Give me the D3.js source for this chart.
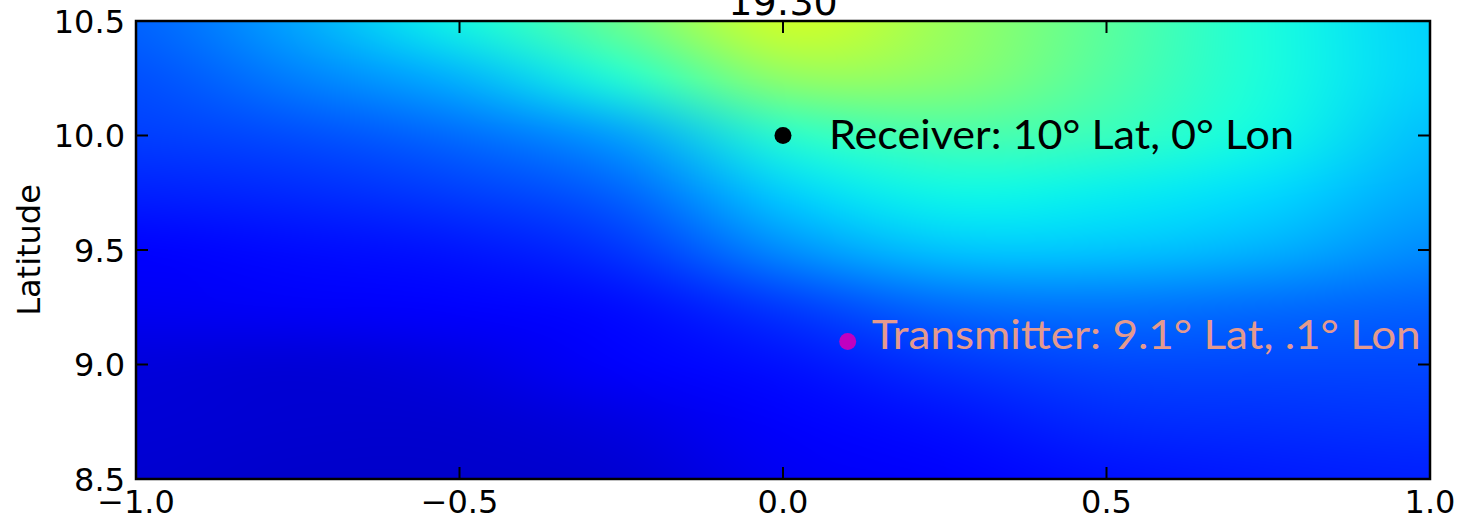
<!DOCTYPE html>
<html>
<head>
<meta charset="utf-8">
<script src="https://cdn.jsdelivr.net/npm/d3@7"></script>
<style>
  body { margin: 0; background: #fff; }
  svg { display: block; }
  .tick-label { font-family: 'DejaVu Sans', sans-serif; font-size: 32px; fill: #000; }
  .note { font-family: Lato, 'Open Sans', sans-serif; font-size: 41px; }
</style>
</head>
<body>
<svg width="1462" height="521"></svg>
<script>
// grid of the field (longitude columns, latitude rows), 0..1 on jet
const lons = [-1, -0.75, -0.5, -0.25, 0, 0.25, 0.5, 0.75, 1];
const lats = [10.5, 10.25, 10.0, 9.75, 9.5, 9.25, 9.0, 8.75, 8.5];
const field = [
  [0.22, 0.29, 0.37, 0.48, 0.61, 0.54, 0.46, 0.38, 0.33],
  [0.20, 0.25, 0.30, 0.39, 0.53, 0.52, 0.45, 0.38, 0.33],
  [0.185, 0.20, 0.23, 0.28, 0.40, 0.44, 0.42, 0.37, 0.31],
  [0.155, 0.165, 0.185, 0.22, 0.33, 0.37, 0.36, 0.34, 0.29],
  [0.12, 0.135, 0.145, 0.175, 0.265, 0.32, 0.32, 0.30, 0.26],
  [0.10, 0.105, 0.11, 0.135, 0.18, 0.23, 0.24, 0.23, 0.22],
  [0.08, 0.075, 0.085, 0.11, 0.14, 0.175, 0.195, 0.195, 0.195],
  [0.075, 0.07, 0.07, 0.085, 0.11, 0.14, 0.165, 0.17, 0.175],
  [0.07, 0.065, 0.065, 0.07, 0.10, 0.12, 0.14, 0.15, 0.155]
];

const xTicks = [-1, -0.5, 0, 0.5, 1];
const yTicks = [8.5, 9.0, 9.5, 10.0, 10.5];
const title = '19:30';

const points = [
  { name: 'Receiver: 10° Lat, 0° Lon', lon: 0, lat: 10.0, dot: '#000000', text: '#000000', len: 465, dx: 46, dy: 13 },
  { name: 'Transmitter: 9.1° Lat, .1° Lon', lon: 0.1, lat: 9.1, dot: '#c000c0', text: '#e49a8e', len: 549, dx: 24, dy: 7 }
];

const svg = d3.select('svg');
const pLeft = 136, pRight = 1430, pTop = 21, pBottom = 479;

const x = d3.scaleLinear().domain([-1, 1]).range([pLeft, pRight]);
const y = d3.scaleLinear().domain([8.5, 10.5]).range([pBottom, pTop]);

// jet colormap, same segments as matplotlib
const jr = d3.scaleLinear().domain([0, 0.35, 0.66, 0.89, 1]).range([0, 0, 1, 1, 0.5]).clamp(true);
const jg = d3.scaleLinear().domain([0, 0.125, 0.375, 0.64, 0.91, 1]).range([0, 0, 1, 1, 0, 0]).clamp(true);
const jb = d3.scaleLinear().domain([0, 0.11, 0.34, 0.65, 1]).range([0.5, 1, 1, 0, 0]).clamp(true);
const jet = (t) => d3.rgb(jr(t) * 255, jg(t) * 255, jb(t) * 255);
const color = d3.scaleSequential(jet).domain([0, 1]);

// one pixel per grid cell
const cv = document.createElement('canvas');
cv.width = lons.length;
cv.height = lats.length;
const ctx = cv.getContext('2d');
const img = ctx.createImageData(cv.width, cv.height);
field.forEach((row, j) => {
  row.forEach((v, i) => {
    const c = d3.rgb(color(v));
    const k = (j * cv.width + i) * 4;
    img.data[k] = c.r;
    img.data[k + 1] = c.g;
    img.data[k + 2] = c.b;
    img.data[k + 3] = 255;
  });
});
ctx.putImageData(img, 0, 0);

const stepX = lons[1] - lons[0];
const stepY = lats[0] - lats[1];

// scale it up to the plot size with the browser's smoothing (pixel centres on the grid points)
const big = document.createElement('canvas');
big.width = pRight - pLeft;
big.height = pBottom - pTop;
const bctx = big.getContext('2d');
bctx.imageSmoothingEnabled = true;
bctx.imageSmoothingQuality = 'high';
bctx.drawImage(
  cv,
  x(lons[0] - stepX / 2) - pLeft,
  y(lats[0] + stepY / 2) - pTop,
  x(lons[lons.length - 1] + stepX / 2) - x(lons[0] - stepX / 2),
  y(lats[lats.length - 1] - stepY / 2) - y(lats[0] + stepY / 2)
);

svg.append('image')
  .attr('href', big.toDataURL())
  .attr('x', pLeft)
  .attr('y', pTop)
  .attr('width', big.width)
  .attr('height', big.height)
  .attr('preserveAspectRatio', 'none');

// ticks pointing inward on all four sides
const tl = 12;
const tickG = svg.append('g').attr('stroke', '#000').attr('stroke-width', 2);
xTicks.forEach((t) => {
  tickG.append('line').attr('x1', x(t)).attr('x2', x(t)).attr('y1', pBottom).attr('y2', pBottom - tl);
  tickG.append('line').attr('x1', x(t)).attr('x2', x(t)).attr('y1', pTop).attr('y2', pTop + tl);
});
yTicks.forEach((t) => {
  tickG.append('line').attr('x1', pLeft).attr('x2', pLeft + tl).attr('y1', y(t)).attr('y2', y(t));
  tickG.append('line').attr('x1', pRight).attr('x2', pRight - tl).attr('y1', y(t)).attr('y2', y(t));
});

// frame
svg.append('rect')
  .attr('x', pLeft)
  .attr('y', pTop)
  .attr('width', pRight - pLeft)
  .attr('height', pBottom - pTop)
  .attr('fill', 'none')
  .attr('stroke', '#000')
  .attr('stroke-width', 2.5);

const fmt = (v) => d3.format('.1f')(v).replace('-', '\u2212');

svg.append('g').selectAll('text')
  .data(xTicks)
  .enter()
  .append('text')
  .attr('class', 'tick-label')
  .attr('x', (d) => x(d))
  .attr('y', 513)
  .attr('text-anchor', 'middle')
  .text(fmt);

svg.append('g').selectAll('text')
  .data(yTicks)
  .enter()
  .append('text')
  .attr('class', 'tick-label')
  .attr('x', pLeft - 11)
  .attr('y', (d) => y(d))
  .attr('dy', '0.36em')
  .attr('text-anchor', 'end')
  .text(fmt);

svg.append('text')
  .attr('class', 'tick-label')
  .attr('transform', `translate(40,${(pTop + pBottom) / 2}) rotate(-90)`)
  .attr('text-anchor', 'middle')
  .text('Latitude');

svg.append('text')
  .attr('class', 'tick-label')
  .style('font-size', '38px')
  .attr('x', (pLeft + pRight) / 2)
  .attr('y', 15)
  .attr('text-anchor', 'middle')
  .text(title);

// receiver / transmitter markers
const notes = svg.append('g');
points.forEach((p) => {
  notes.append('circle')
    .attr('cx', x(p.lon))
    .attr('cy', y(p.lat))
    .attr('r', 8.5)
    .attr('fill', p.dot);
  notes.append('text')
    .attr('class', 'note')
    .attr('x', x(p.lon) + p.dx)
    .attr('y', y(p.lat) + p.dy)
    .attr('fill', p.text)
    .attr('textLength', p.len)
    .attr('lengthAdjust', 'spacingAndGlyphs')
    .text(p.name);
});
</script>
</body>
</html>
